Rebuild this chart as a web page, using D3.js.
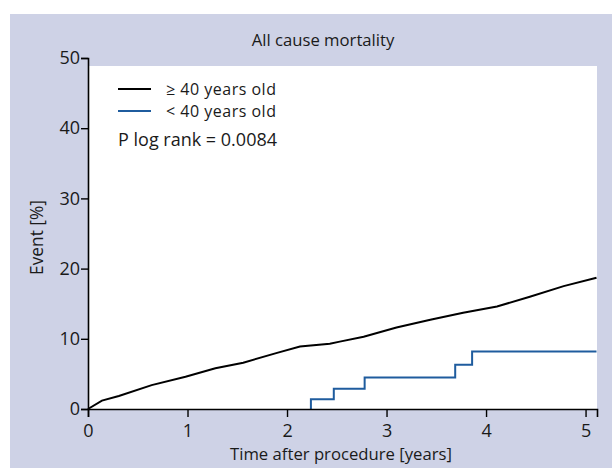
<!DOCTYPE html>
<html>
<head>
<meta charset="utf-8">
<script src="https://cdn.jsdelivr.net/npm/d3@7"></script>
<style>
  body { margin: 0; background: #fff; }
  text { font-family: "Open Sans", "Noto Sans", sans-serif; fill: #1a1a1a; }
</style>
</head>
<body>
<div id="chart"></div>
<script>
// black curve: >= 40 years old (time in years, event %)
let olderTime  = [0, 0.14, 0.31, 0.64, 0.98, 1.28, 1.56, 1.90, 2.13, 2.43, 2.53, 2.77, 3.10, 3.44, 3.77, 4.11, 4.44, 4.78, 5.11];
let olderEvent = [0, 1.2, 1.85, 3.4, 4.6, 5.8, 6.6, 8.0, 8.9, 9.3, 9.6, 10.3, 11.6, 12.7, 13.7, 14.6, 16.0, 17.5, 18.7];

// blue step curve: < 40 years old (first event at 2.24 years)
let youngTime  = [2.24, 2.24, 2.47, 2.78, 3.69, 3.86, 5.11];
let youngEvent = [0, 1.4, 2.9, 4.5, 6.3, 8.2, 8.2];

let xTicks = [0, 1, 2, 3, 4, 5];
let yTicks = [0, 10, 20, 30, 40, 50];
let legendLabels = ["\u2265 40 years old", "< 40 years old"];
let legendColors = ["#000000", "#1f5c9e"];

let width = 612;
let height = 468;

let svg = d3.select("#chart").append("svg").attr("width", width).attr("height", height);

// lavender panel
svg.append("rect").attr("x", 10).attr("y", 14).attr("width", 602).attr("height", 454).attr("fill", "#ced2e6");

let x = d3.scaleLinear().domain([0, 5.115]).range([88, 597]);
let y = d3.scaleLinear().domain([0, 50]).range([409, 58]);

// white plot area (stops a bit below the 50 tick)
svg.append("rect").attr("x", x(0)).attr("y", 66).attr("width", x(5.115) - x(0)).attr("height", y(0) - 66).attr("fill", "#ffffff");

svg.append("text").attr("x", 323).attr("y", 46).attr("text-anchor", "middle")
  .style("font-size", "16.7px").text("All cause mortality");

let olderData = olderTime.map((t, i) => ({t: t, v: olderEvent[i]}));
let youngData = youngTime.map((t, i) => ({t: t, v: youngEvent[i]}));

svg.append("path").datum(youngData)
  .attr("d", d3.line().x(d => x(d.t)).y(d => y(d.v)).curve(d3.curveStepAfter))
  .attr("fill", "none").attr("stroke", legendColors[1]).attr("stroke-width", 2);

svg.append("path").datum(olderData)
  .attr("d", d3.line().x(d => x(d.t)).y(d => y(d.v)))
  .attr("fill", "none").attr("stroke", legendColors[0]).attr("stroke-width", 2);

// axes
let xAxis = svg.append("g").attr("transform", "translate(0," + y(0) + ")")
  .call(d3.axisBottom(x).tickValues(xTicks).tickFormat(d3.format("d")).tickSizeOuter(0).tickSize(8).tickPadding(7));
let yAxis = svg.append("g").attr("transform", "translate(" + x(0) + ",0)")
  .call(d3.axisLeft(y).tickValues(yTicks).tickSizeOuter(0).tickSize(7).tickPadding(1));

[xAxis, yAxis].forEach(a => {
  a.select(".domain").attr("stroke", "#000").attr("stroke-width", 1.6);
  a.selectAll(".tick line").attr("stroke", "#000").attr("stroke-width", 1.4);
  a.selectAll(".tick text").style("font-size", "18px").style("font-family", "'Open Sans', sans-serif").attr("fill", "#1a1a1a");
});

svg.append("text").attr("x", 341).attr("y", 460).attr("text-anchor", "middle")
  .style("font-size", "16.7px").text("Time after procedure [years]");

svg.append("text").attr("transform", "translate(43," + (y(25) + 4) + ") rotate(-90)")
  .attr("text-anchor", "middle").style("font-size", "17.3px").text("Event [%]");

// legend
let legend = svg.selectAll(".legendline").data(legendLabels).enter().append("g")
  .attr("class", "legendline")
  .attr("transform", (d, i) => "translate(118," + (89 + i * 22) + ")");
legend.append("line").attr("x1", 0).attr("x2", 33).attr("y1", 0).attr("y2", 0)
  .attr("stroke", (d, i) => legendColors[i]).attr("stroke-width", 2);
legend.append("text").attr("x", 48).attr("y", 6).style("font-size", "16px").style("letter-spacing", "0.5px").text(d => d);

svg.append("text").attr("x", 118).attr("y", 146).style("font-size", "18px").text("P log rank = 0.0084");
</script>
</body>
</html>
